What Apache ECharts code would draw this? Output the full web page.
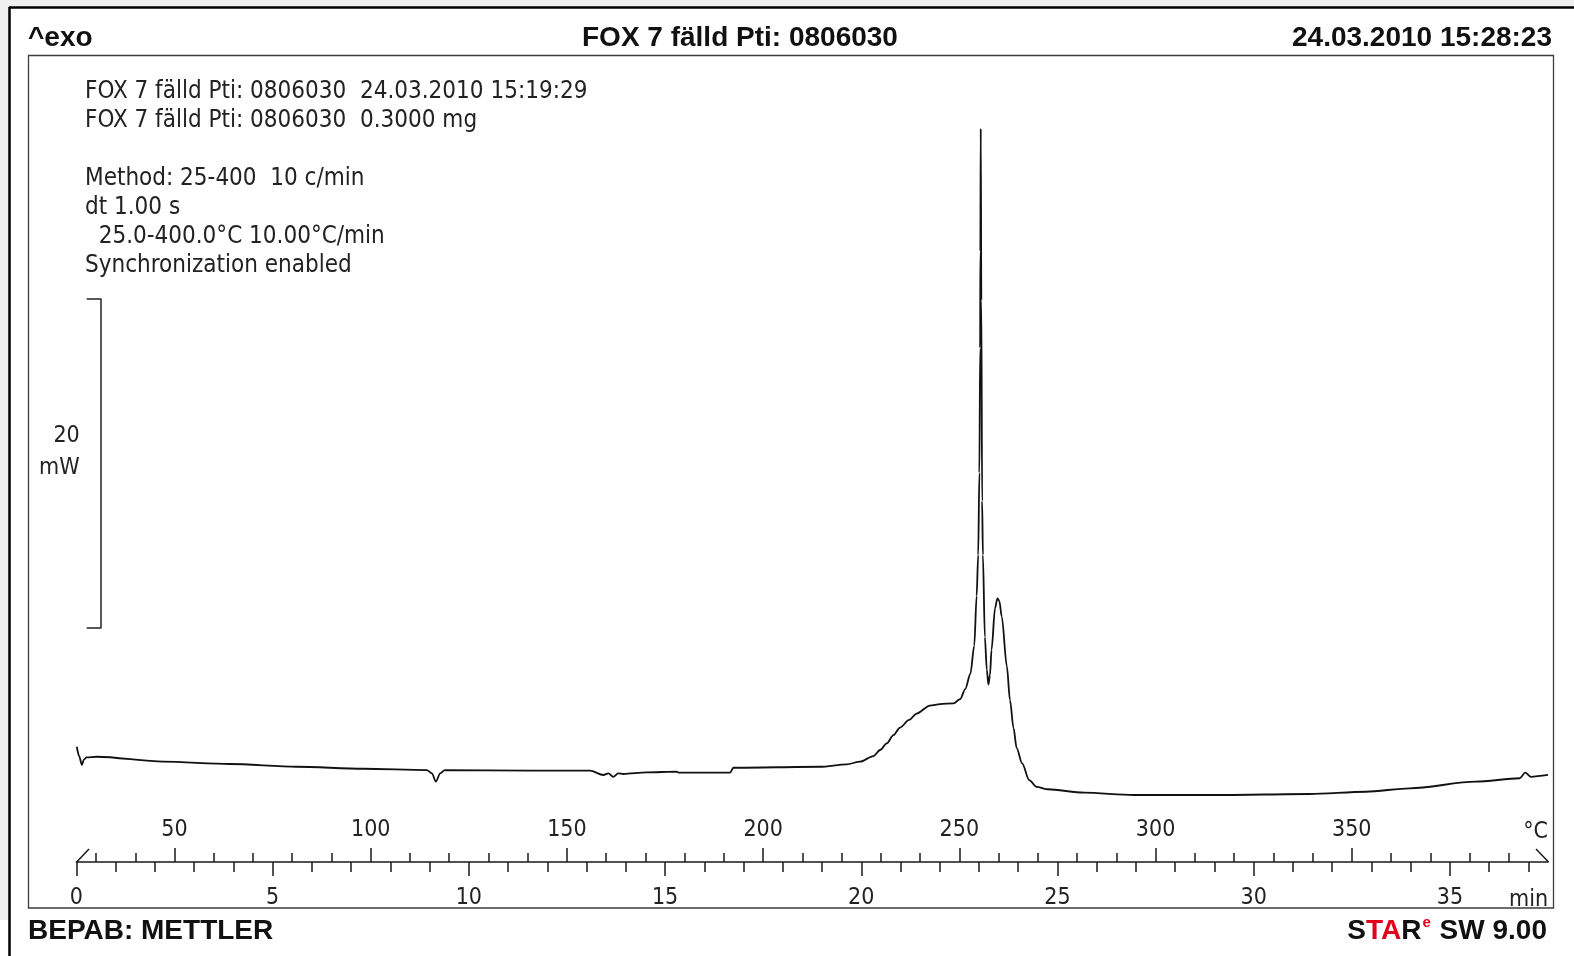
<!DOCTYPE html>
<html>
<head>
<meta charset="utf-8">
<title>FOX 7 fälld Pti: 0806030</title>
<script src="https://cdn.jsdelivr.net/npm/echarts@6/dist/echarts.min.js"></script>
<style>
  html, body { margin: 0; padding: 0; background: #fff; }
  #chart { width: 1574px; height: 956px; }
</style>
</head>
<body>
<div id="chart"></div>
<script>
// DSC run, heat flow (mW) against sample temperature (°C)
var temps = [25.1, 25.7, 26.4, 26.9, 27.6, 30.2, 47.2, 64.1, 81.1, 98.1,
  114.3, 115.6, 116.6, 117.7, 118.9, 140.6, 155.9, 159.3, 160.6, 161.8,
  163.1, 164.4, 170.3, 178.0, 178.4, 191.6, 192.4, 214.5, 221.3, 224.7,
  228.1, 229.8, 231.5, 233.2, 234.9, 237.2, 239.1, 242.5, 245.1, 248.5,
  250.2, 251.5, 252.8, 253.8, 254.4, 254.8, 255.1, 255.3, 255.35, 255.45,
  255.6, 255.8, 256.0, 256.5, 257.0, 257.4, 257.8, 258.2, 259.1, 259.7,
  260.2, 260.8, 262.1, 262.9, 263.8, 264.6, 266.0, 267.8, 269.7, 272.5,
  281.8, 294.4, 316.3, 339.2, 353.6, 364.8, 381.6, 392.8, 394.2, 395.6, 400.0];
var heatFlow = [2.82, 2.25, 1.71, 2.04, 2.17, 2.21, 1.91, 1.77, 1.60, 1.48,
  1.40, 1.20, 0.69, 1.20, 1.40, 1.37, 1.36, 1.10, 1.20, 0.99,
  1.20, 1.16, 1.26, 1.30, 1.24, 1.24, 1.54, 1.60, 1.75, 1.91,
  2.25, 2.62, 3.03, 3.53, 3.99, 4.45, 4.84, 5.33, 5.42, 5.46,
  5.72, 6.33, 7.25, 8.98, 12.0, 14.5, 19.5, 27.1, 33.0, 40.47,
  30.0, 17.8, 14.5, 9.5, 7.5, 6.6, 7.19, 8.73, 11.27, 11.86,
  11.69, 10.75, 7.73, 5.66, 3.96, 2.74, 1.81, 0.79, 0.38, 0.23,
  0.02, -0.12, -0.12, -0.06, 0.08, 0.29, 0.69, 0.90, 1.24, 0.99, 1.10];

var tempLabels = [50, 100, 150, 200, 250, 300, 350];
var tempMinorTicks = [30, 40, 60, 70, 80, 90, 110, 120, 130, 140, 160, 170, 180, 190,
  210, 220, 230, 240, 260, 270, 280, 290, 310, 320, 330, 340, 360, 370, 380, 390];
var timeLabels = [0, 5, 10, 15, 20, 25, 30, 35];
var timeMinorTicks = [1, 2, 3, 4, 6, 7, 8, 9, 11, 12, 13, 14, 16, 17, 18, 19,
  21, 22, 23, 24, 26, 27, 28, 29, 31, 32, 33, 34, 36, 37];
var scaleTicks = [0, 20];

var infoLines = [
  'FOX 7 fälld Pti: 0806030  24.03.2010 15:19:29',
  'FOX 7 fälld Pti: 0806030  0.3000 mg',
  '',
  'Method: 25-400  10 c/min',
  'dt 1.00 s',
  '  25.0-400.0°C 10.00°C/min',
  'Synchronization enabled'
];

var ink = '#1a1a1a';
var textFont = 'DejaVu Sans Condensed';
var headFont = 'Liberation Sans';

var points = [];
for (var i = 0; i < temps.length; i++) {
  points.push([temps[i], heatFlow[i]]);
}

function plotGrid() {
  return { left: 76.4, right: 26, top: 55, bottom: 94, outerBoundsMode: 'none' };
}

function headTitle(text, pos) {
  var t = {
    text: text, padding: 0, top: pos.top,
    textStyle: { fontFamily: headFont, fontWeight: 'bold', fontSize: 28, lineHeight: 32, color: '#111' }
  };
  if (pos.left != null) t.left = pos.left;
  if (pos.right != null) t.right = pos.right;
  return t;
}

var labelStyle = { fontFamily: textFont, fontSize: 23, lineHeight: 24, color: '#222' };

var myChart = echarts.init(document.getElementById('chart'));
var option = {
  animation: false,
  backgroundColor: '#fff',
  title: [
    headTitle('^exo', { left: 28, top: 22 }),
    headTitle('FOX 7 fälld Pti: 0806030', { left: 582, top: 22 }),
    headTitle('24.03.2010 15:28:23', { right: 22, top: 22 }),
    headTitle('BEPAB: METTLER', { left: 28, top: 915 }),
    {
      text: '{k|S}{r|TA}{k|R}{e|e}{k| SW 9.00}',
      right: 27, top: 915, padding: 0,
      textStyle: {
        rich: {
          k: { fontFamily: headFont, fontWeight: 'bold', fontSize: 28, lineHeight: 32, color: '#111' },
          r: { fontFamily: headFont, fontWeight: 'bold', fontSize: 28, lineHeight: 32, color: '#e3001b' },
          e: { fontFamily: headFont, fontWeight: 'bold', fontSize: 15, lineHeight: 32, color: '#e3001b', verticalAlign: 'top', padding: [0, 1, 2, 1] }
        }
      }
    },
    {
      text: infoLines.join('\n'),
      left: 85, top: 77, padding: 0,
      textStyle: { fontFamily: textFont, fontWeight: 'normal', fontSize: 24, lineHeight: 29, color: '#222' }
    }
  ],
  grid: [plotGrid(), plotGrid(), plotGrid(), plotGrid(),
    { left: 100.7, top: 299, height: 329, width: 10, outerBoundsMode: 'none' }],
  xAxis: [
    { // temperature, long ticks and labels
      gridIndex: 0, type: 'value', position: 'bottom', min: 25, max: 400,
      axisLine: { show: true, onZero: false, lineStyle: { color: ink, width: 1.5 } },
      axisTick: { show: true, inside: true, length: 14, customValues: tempLabels, lineStyle: { color: ink, width: 1.5 } },
      axisLabel: Object.assign({ show: true, inside: true, margin: 20, customValues: tempLabels }, labelStyle),
      splitLine: { show: false },
      name: '°C', nameLocation: 'end', nameGap: 0,
      nameTextStyle: Object.assign({}, labelStyle, { align: 'right', verticalAlign: 'bottom', lineHeight: 60 })
    },
    { // temperature, short ticks
      gridIndex: 1, type: 'value', position: 'bottom', min: 25, max: 400,
      axisLine: { show: false, onZero: false },
      axisTick: { show: true, inside: true, length: 9, customValues: tempMinorTicks, lineStyle: { color: ink, width: 1.5 } },
      axisLabel: { show: false },
      splitLine: { show: false }
    },
    { // time, long ticks and labels
      gridIndex: 2, type: 'value', position: 'bottom', min: 0, max: 37.5,
      axisLine: { show: false, onZero: false },
      axisTick: { show: true, inside: false, length: 14, customValues: timeLabels, lineStyle: { color: ink, width: 1.5 } },
      axisLabel: Object.assign({ show: true, margin: 24, customValues: timeLabels }, labelStyle),
      splitLine: { show: false },
      name: 'min', nameLocation: 'end', nameGap: 0,
      nameTextStyle: Object.assign({}, labelStyle, { align: 'right', verticalAlign: 'top', lineHeight: 76 })
    },
    { // time, short ticks
      gridIndex: 3, type: 'value', position: 'bottom', min: 0, max: 37.5,
      axisLine: { show: false, onZero: false },
      axisTick: { show: true, inside: false, length: 10, customValues: timeMinorTicks, lineStyle: { color: ink, width: 1.5 } },
      axisLabel: { show: false },
      splitLine: { show: false }
    },
    { gridIndex: 4, type: 'value', show: false }
  ],
  yAxis: [
    { gridIndex: 0, type: 'value', min: -4.2, max: 44.95, show: false },
    { gridIndex: 1, type: 'value', min: 0, max: 1, show: false },
    { gridIndex: 2, type: 'value', min: 0, max: 1, show: false },
    { gridIndex: 3, type: 'value', min: 0, max: 1, show: false },
    { // 20 mW scale bar
      gridIndex: 4, type: 'value', position: 'left', min: 0, max: 20,
      axisLine: { show: true, lineStyle: { color: '#222', width: 1.5 } },
      axisTick: { show: true, length: 14, customValues: scaleTicks, lineStyle: { color: '#222', width: 1.5 } },
      axisLabel: { show: false },
      splitLine: { show: false },
      name: '{a|20}\n{a|mW}\n{b| }', nameLocation: 'middle', nameRotate: 0, nameGap: 21,
      nameTextStyle: {
        align: 'right', verticalAlign: 'middle',
        rich: {
          a: { fontFamily: textFont, fontSize: 23, lineHeight: 32, color: '#222', align: 'right' },
          b: { fontFamily: textFont, fontSize: 10, lineHeight: 23 }
        }
      }
    }
  ],
  graphic: [
    { type: 'rect', silent: true, z: -10, shape: { x: 0, y: 0, width: 1574, height: 7 }, style: { fill: '#efefef' } },
    { type: 'rect', silent: true, z: -10, shape: { x: 0, y: 0, width: 9, height: 920 }, style: { fill: '#efefef' } },
    { type: 'line', silent: true, shape: { x1: 9, y1: 7.5, x2: 1574, y2: 7.5 }, style: { stroke: '#000', lineWidth: 2.5 } },
    { type: 'line', silent: true, shape: { x1: 9.5, y1: 7, x2: 9.5, y2: 956 }, style: { stroke: '#000', lineWidth: 2.5 } },
    { type: 'rect', silent: true, shape: { x: 28.5, y: 55.5, width: 1525, height: 852.5 }, style: { fill: 'none', stroke: '#3c3c3c', lineWidth: 1.3 } },
    { type: 'line', silent: true, shape: { x1: 76.7, y1: 862, x2: 89, y2: 849 }, style: { stroke: ink, lineWidth: 1.5 } },
    { type: 'line', silent: true, shape: { x1: 1536, y1: 849, x2: 1548.5, y2: 862 }, style: { stroke: ink, lineWidth: 1.5 } }
  ],
  series: [{
    type: 'line',
    xAxisIndex: 0,
    yAxisIndex: 0,
    data: points,
    showSymbol: false,
    smooth: 0.3,
    smoothMonotone: 'x',
    lineStyle: { color: '#111', width: 1.8 }
  }]
};
myChart.setOption(option);
</script>
</body>
</html>
